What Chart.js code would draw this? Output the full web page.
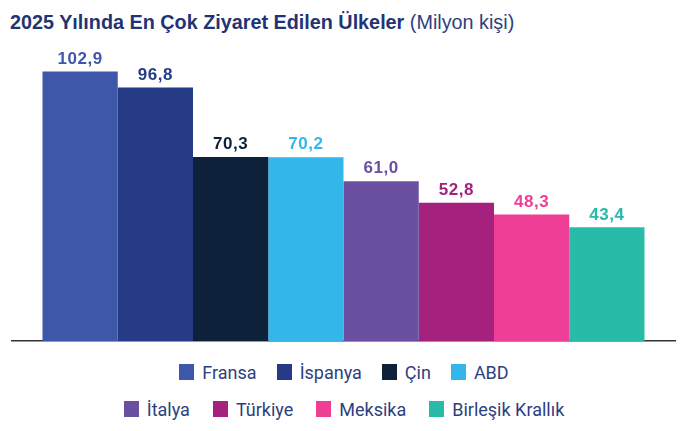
<!DOCTYPE html>
<html lang="tr">
<head>
<meta charset="utf-8">
<script src="https://cdn.jsdelivr.net/npm/chart.js@4.4.1/dist/chart.umd.min.js"></script>
<style>
  html, body { margin: 0; padding: 0; background: #fff; }
  body { width: 700px; height: 431px; position: relative; overflow: hidden; }
  #title {
    position: absolute; left: 10px; top: 11px;
    font-family: "Liberation Sans", Arial, sans-serif;
    font-size: 19.8px; color: #1f3474; white-space: nowrap;
  }
  #title b { font-weight: bold; }
  #title span { color: #2d3f80; }
  #chartBox { position: absolute; left: 0; top: 0; width: 700px; height: 349px; }
  #legend {
    position: absolute; left: -6px; top: 361px; width: 700px;
    font-family: Roboto, sans-serif; font-size: 18px; color: #2d3f80;
  }
  .row { display: flex; justify-content: center; height: 37px; }
  .row1 { gap: 20px; }
  .row2 { gap: 23px; }
  .item { display: flex; align-items: center; gap: 8px; height: 22px; }
  .box { width: 15px; height: 16px; display: inline-block; }
</style>
</head>
<body>
<div id="title"><b>2025 Yılında En Çok Ziyaret Edilen Ülkeler</b> <span>(Milyon kişi)</span></div>
<div id="chartBox"><canvas id="ulkelerChart"></canvas></div>
<div id="legend"></div>

<script>
// Veriler
const ulkeler = ['Fransa', 'İspanya', 'Çin', 'ABD', 'İtalya', 'Türkiye', 'Meksika', 'Birleşik Krallık'];
const ziyaretci = [102.9, 96.8, 70.3, 70.2, 61.0, 52.8, 48.3, 43.4];
const renkler = ['#3f57a9', '#253b86', '#0e213a', '#33b6e9', '#6950a0', '#a5217e', '#ee3e95', '#28bba8'];
const legendSatirlari = [[0, 1, 2, 3], [4, 5, 6, 7]];

// Bar üstü değer etiketleri
const degerEtiketleri = {
    id: 'degerEtiketleri',
    afterDatasetsDraw(chart) {
        const ctx = chart.ctx;
        ctx.save();
        ctx.font = 'bold 17px "Liberation Sans", Arial, sans-serif';
        ctx.letterSpacing = '0.5px';
        ctx.textAlign = 'center';
        ctx.textBaseline = 'bottom';
        chart.data.datasets.forEach((ds, i) => {
            const bar = chart.getDatasetMeta(i).data[0];
            ctx.fillStyle = ds.backgroundColor;
            ctx.fillText(ds.data[0].toFixed(1).replace('.', ','), bar.x, bar.y - 4);
        });
        ctx.restore();
    }
};

const ctx = document.getElementById('ulkelerChart').getContext('2d');
const chart = new Chart(ctx, {
    type: 'bar',
    data: {
        labels: [''],
        datasets: ulkeler.map((ad, i) => ({
            label: ad,
            data: [ziyaretci[i]],
            backgroundColor: renkler[i],
            borderWidth: 0
        }))
    },
    options: {
        responsive: true,
        maintainAspectRatio: false,
        animation: false,
        layout: { padding: { left: 12, right: 25, top: 53, bottom: 0 } },
        datasets: { bar: { categoryPercentage: 0.908, barPercentage: 1 } },
        plugins: {
            legend: { display: false },
            tooltip: { enabled: false }
        },
        scales: {
            x: {
                grid: { display: false },
                ticks: { display: false },
                border: { display: true, color: '#333', width: 1.5 }
            },
            y: {
                display: false,
                min: 0,
                max: 110
            }
        }
    },
    plugins: [degerEtiketleri]
});

// HTML legend (iki satır)
const legend = document.getElementById('legend');
legendSatirlari.forEach((satir, s) => {
    const row = document.createElement('div');
    row.className = 'row row' + (s + 1);
    satir.forEach(i => {
        const item = document.createElement('div');
        item.className = 'item';
        item.innerHTML = '<span class="box" style="background:' + chart.data.datasets[i].backgroundColor + '"></span>' + chart.data.datasets[i].label;
        row.appendChild(item);
    });
    legend.appendChild(row);
});
</script>
</body>
</html>
